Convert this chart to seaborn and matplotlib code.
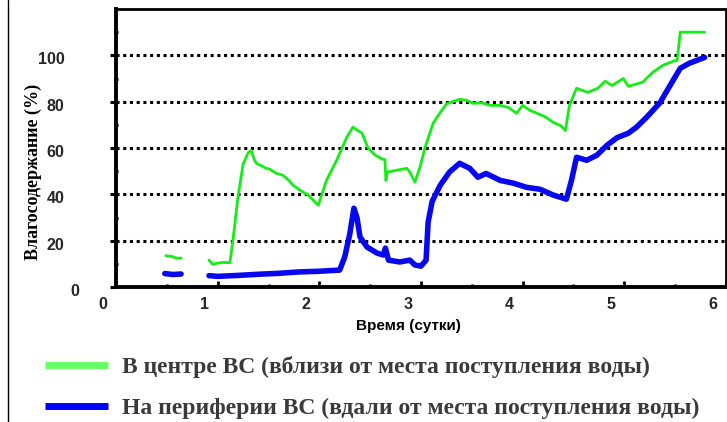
import numpy as np
import pandas as pd
import matplotlib
matplotlib.use("Agg")
import matplotlib.pyplot as plt
import matplotlib.transforms as mtransforms
from matplotlib.lines import Line2D
import seaborn as sns

# --- data -----------------------------------------------------------------
series_names = [
    "В центре ВС (вблизи от места поступления воды)",
    "На периферии ВС (вдали от места поступления воды)",
]

# centre of the layer: two recorded segments (gap between them)
center_days_a = [0.49, 0.55, 0.60, 0.64]
center_vals_a = [13.5, 13.2, 12.4, 12.5]
center_days_b = [0.915, 0.95, 1.00, 1.05, 1.12, 1.15, 1.20, 1.25, 1.30, 1.33,
                 1.36, 1.38, 1.45, 1.48, 1.51, 1.58, 1.64, 1.70, 1.74, 1.81,
                 1.89, 1.97, 1.99, 2.07, 2.17, 2.27, 2.33, 2.38, 2.42, 2.48,
                 2.55, 2.62, 2.645, 2.655, 2.67, 2.76, 2.86, 2.89, 2.94, 2.99,
                 3.04, 3.12, 3.19, 3.25, 3.31, 3.38, 3.45, 3.51, 3.60, 3.68,
                 3.78, 3.86, 3.94, 4.00, 4.07, 4.14, 4.22, 4.30, 4.38, 4.42,
                 4.46, 4.53, 4.64, 4.74, 4.81, 4.88, 4.99, 5.04, 5.18, 5.28,
                 5.38, 5.48, 5.52, 5.55, 5.79]
center_vals_b = [11.6, 9.8, 10.3, 10.6, 10.5, 20.0, 39.0, 53.0, 58.0, 59.0,
                 55.0, 53.4, 51.9, 51.2, 50.9, 49.0, 48.3, 46.0, 44.0, 41.8,
                 39.7, 36.2, 35.3, 46.0, 54.7, 64.7, 69.0, 67.5, 66.4, 59.9,
                 56.9, 55.2, 55.0, 46.0, 49.6, 50.4, 51.2, 49.6, 45.3, 51.7,
                 60.3, 70.7, 75.4, 79.0, 80.0, 81.0, 80.6, 79.3, 79.5, 78.4,
                 78.4, 77.5, 75.0, 78.4, 76.3, 75.0, 73.5, 71.1, 69.5, 67.5,
                 78.4, 85.8, 84.0, 85.8, 88.8, 87.0, 90.0, 86.6, 88.4, 92.7,
                 95.7, 97.4, 98.0, 110.0, 110.0]

# periphery of the layer
edge_days_a = [0.48, 0.56, 0.64]
edge_vals_a = [5.8, 5.4, 5.6]
edge_days_b = [0.915, 1.00, 1.20, 1.40, 1.60, 1.80, 2.00, 2.20, 2.25, 2.30,
               2.34, 2.37, 2.40, 2.47, 2.57, 2.63, 2.65, 2.68, 2.79, 2.89,
               2.94, 3.00, 3.05, 3.07, 3.11, 3.19, 3.28, 3.38, 3.48, 3.56,
               3.64, 3.78, 3.91, 4.04, 4.17, 4.30, 4.43, 4.48, 4.53, 4.63,
               4.73, 4.83, 4.93, 5.04, 5.12, 5.22, 5.35, 5.45, 5.55, 5.64,
               5.79]
edge_vals_b = [4.9, 4.6, 5.0, 5.5, 5.9, 6.5, 6.8, 7.3, 13.0, 23.0,
               34.0, 30.0, 21.6, 17.2, 14.6, 13.8, 16.8, 11.6, 10.8, 11.6,
               9.5, 9.0, 11.6, 28.0, 37.0, 44.0, 49.6, 53.4, 51.2, 47.4,
               49.0, 46.0, 44.8, 43.0, 42.2, 39.7, 37.9, 46.0, 56.0, 54.7,
               56.9, 61.2, 64.5, 66.4, 69.0, 73.3, 79.5, 87.0, 94.4, 96.6,
               99.1]

x_tick_labels = ["0", "1", "2", "3", "4", "5", "6"]
y_tick_labels = ["0", "20", "40", "60", "80", "100"]

line_colors = ["#14ee14", "#0808f0"]
legend_colors = ["#66ff66", "#0000ff"]
line_widths = [2.0, 4.0]

# long table: one row per point, segment id keeps the gaps open
frames = []
for name, segs in zip(series_names, [
        [(center_days_a, center_vals_a), (center_days_b, center_vals_b)],
        [(edge_days_a, edge_vals_a), (edge_days_b, edge_vals_b)]]):
    for k, (d, v) in enumerate(segs):
        frames.append(pd.DataFrame({"day": d, "value": v,
                                    "series": name, "segment": k}))
df = pd.concat(frames, ignore_index=True)

# --- figure ---------------------------------------------------------------
sns.set_theme(style="white")
plt.rcParams["font.family"] = ["Liberation Sans", "DejaVu Sans"]

W, H = 727, 422
fig = plt.figure(figsize=(W / 100, H / 100), dpi=100)
ax = fig.add_axes([116 / W, 1 - 287 / H, 610 / W, 278 / H])

for name, c, lw in zip(series_names, line_colors, line_widths):
    sub = df[df["series"] == name]
    sns.lineplot(data=sub, x="day", y="value", units="segment",
                 estimator=None, sort=False, color=c, linewidth=lw,
                 ax=ax, legend=False)

ax.set_xlim(0, 6)
ax.set_ylim(0, 120)

ax.set_xticks(range(len(x_tick_labels)))
ax.set_xticklabels(x_tick_labels)
ax.set_xticks(np.arange(0.5, 6, 1.0), minor=True)
ax.set_yticks(np.arange(0, 101, 20))
ax.set_yticklabels(y_tick_labels)
ax.set_yticks(np.arange(10, 111, 20), minor=True)

ax.grid(False)
ax.yaxis.grid(True, which="major", color="black", linewidth=2.2,
              linestyle=(0, (1.0, 1.2)))

for side, sp in ax.spines.items():
    sp.set_visible(True)
    sp.set_color("black")
    sp.set_linewidth(2.8 if side in ("left", "bottom") else 2.0)

tick_font = dict(family=["Liberation Sans", "DejaVu Sans"], weight="bold",
                 size=11.5)
ax.tick_params(axis="x", which="major", direction="in", length=4, width=2,
               color="black", pad=7, bottom=True)
ax.tick_params(axis="x", which="minor", direction="in", length=2.5, width=2,
               color="black", bottom=True)
ax.tick_params(axis="y", which="major", direction="out", length=4, width=2.2,
               color="black", pad=33, left=True)
ax.tick_params(axis="y", which="minor", direction="inout", length=3,
               width=2.2, color="black", left=True)

for lab in ax.get_xticklabels():
    lab.set_fontproperties(tick_font)
    lab.set_transform(lab.get_transform() + mtransforms.ScaledTranslation(
        -0.13, 0, fig.dpi_scale_trans))
for i, lab in enumerate(ax.get_yticklabels()):
    lab.set_fontproperties(tick_font)
    dx = 0.15 if i == 0 else 0.0
    lab.set_transform(lab.get_transform() + mtransforms.ScaledTranslation(
        dx, -0.03, fig.dpi_scale_trans))

ax.set_xlabel("Время (сутки)", fontsize=11, fontweight="bold",
              family=["Liberation Sans", "DejaVu Sans"], color="black")
ax.xaxis.set_label_coords(0.480, -0.115)
ax.set_ylabel("Влагосодержание (%)", fontsize=13, fontweight="bold",
              family=["Liberation Serif", "DejaVu Serif"], color="black")
ax.yaxis.set_label_coords(-0.121, 0.414)

# left frame line of the figure
fig.add_artist(Line2D([8 / W, 8 / W], [0, 1], transform=fig.transFigure,
                      color="black", linewidth=1.0))

handles = [Line2D([0], [0], color=c, linewidth=5.0, solid_capstyle="butt")
           for c in legend_colors]
leg = fig.legend(handles, series_names, loc="upper left",
                 bbox_to_anchor=(45 / W, 1 - 356 / H), frameon=False,
                 borderaxespad=0, borderpad=0, handlelength=2.67,
                 handletextpad=0.6, labelspacing=0.83,
                 prop=dict(family=["Liberation Serif", "DejaVu Serif"],
                           weight="bold", size=17))
for t in leg.get_texts():
    t.set_color("#3a3a3a")

fig.savefig("out.png", dpi=100)
